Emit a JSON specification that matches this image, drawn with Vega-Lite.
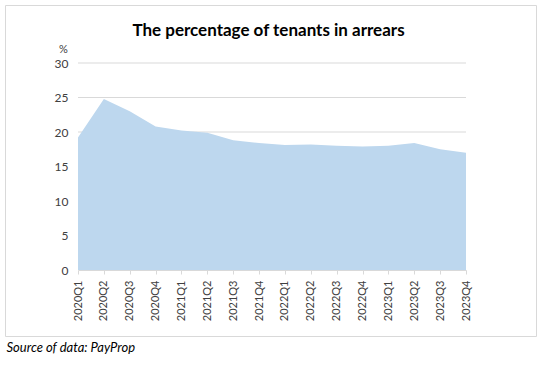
{
  "$schema": "https://vega.github.io/schema/vega-lite/v6.json",
  "autosize": "none",
  "width": 531,
  "height": 331,
  "padding": {"left": 5, "top": 5, "right": 6, "bottom": 30},
  "background": "white",
  "config": {
    "view": {"stroke": "#d9d9d9", "strokeWidth": 1},
    "font": "Lato"
  },
  "title": {
    "text": "The percentage of tenants in arrears",
    "font": "Lato",
    "fontSize": 17,
    "fontWeight": "bold",
    "color": "#000000",
    "anchor": "middle",
    "baseline": "bottom",
    "offset": -52,
    "dx": -2
  },
  "layer": [
    {
      "data": {"values": [{"pct": 5}, {"pct": 10}, {"pct": 15}, {"pct": 20}, {"pct": 25}, {"pct": 30}]},
      "mark": {"type": "rule", "color": "#d9d9d9", "strokeWidth": 1},
      "encoding": {
        "y": {"field": "pct", "type": "quantitative"},
        "x": {"datum": "2020Q1", "type": "ordinal"},
        "x2": {"datum": "2023Q4"}
      }
    },
    {
      "data": {
        "values": [
          {"q": "2020Q1", "pct": 19.2},
          {"q": "2020Q2", "pct": 24.8},
          {"q": "2020Q3", "pct": 23.0},
          {"q": "2020Q4", "pct": 20.8},
          {"q": "2021Q1", "pct": 20.2},
          {"q": "2021Q2", "pct": 19.9},
          {"q": "2021Q3", "pct": 18.8},
          {"q": "2021Q4", "pct": 18.4},
          {"q": "2022Q1", "pct": 18.1},
          {"q": "2022Q2", "pct": 18.2},
          {"q": "2022Q3", "pct": 18.0},
          {"q": "2022Q4", "pct": 17.9},
          {"q": "2023Q1", "pct": 18.0},
          {"q": "2023Q2", "pct": 18.4},
          {"q": "2023Q3", "pct": 17.5},
          {"q": "2023Q4", "pct": 17.0}
        ]
      },
      "mark": {"type": "area", "color": "#bdd7ee", "opacity": 1},
      "encoding": {
        "x": {
          "field": "q",
          "type": "ordinal",
          "sort": null,
          "scale": {
            "type": "point",
            "domain": ["2020Q1", "2020Q2", "2020Q3", "2020Q4", "2021Q1", "2021Q2", "2021Q3", "2021Q4", "2022Q1", "2022Q2", "2022Q3", "2022Q4", "2023Q1", "2023Q2", "2023Q3", "2023Q4"],
            "range": [73, 461],
            "padding": 0
          },
          "axis": {
            "orient": "bottom",
            "offset": -66,
            "labelAngle": -90,
            "labelAlign": "right",
            "labelBaseline": "middle",
            "labelFont": "Lato",
            "labelFontSize": 11,
            "labelColor": "#404040",
            "labelPadding": 6,
            "tickSize": 4,
            "tickColor": "#d9d9d9",
            "domainColor": "#d9d9d9",
            "grid": false,
            "title": "Source of data: PayProp",
            "titleX": 1,
            "titleY": 77,
            "titleAlign": "left",
            "titleAnchor": null,
            "titleBaseline": "middle",
            "titleFont": "Lato",
            "titleFontStyle": "italic",
            "titleFontWeight": "normal",
            "titleFontSize": 13,
            "titleColor": "#000000"
          }
        },
        "y": {
          "field": "pct",
          "type": "quantitative",
          "scale": {"domain": [0, 30], "range": [265, 58], "nice": false, "zero": true},
          "axis": {
            "orient": "left",
            "offset": -73,
            "values": [0, 5, 10, 15, 20, 25, 30],
            "grid": false,
            "domain": false,
            "ticks": false,
            "labelPadding": 10,
            "labelFont": "Lato",
            "labelFontSize": 12,
            "labelColor": "#404040",
            "title": "%",
            "titleAngle": 0,
            "titleX": -15,
            "titleY": 44,
            "titleAlign": "center",
            "titleBaseline": "middle",
            "titleFont": "Lato",
            "titleFontSize": 11,
            "titleFontWeight": "normal",
            "titleColor": "#404040"
          }
        }
      }
    }
  ]
}
